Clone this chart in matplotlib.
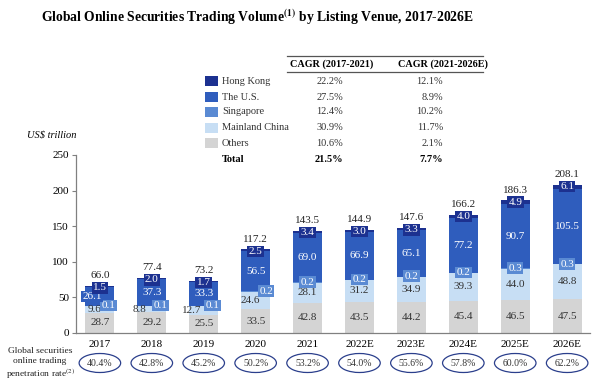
import matplotlib
matplotlib.use("Agg")
import matplotlib.pyplot as plt
from matplotlib.patches import Rectangle, Ellipse
from matplotlib.transforms import blended_transform_factory
import numpy as np

plt.rcParams['font.family'] = ['Liberation Serif', 'DejaVu Serif']
plt.rcParams['mathtext.fontset'] = 'stix'

years = ['2017', '2018', '2019', '2020', '2021', '2022E', '2023E', '2024E', '2025E', '2026E']
others = [28.7, 29.2, 25.5, 33.5, 42.8, 43.5, 44.2, 45.4, 46.5, 47.5]
mainland = [9.6, 8.8, 12.7, 24.6, 28.1, 31.2, 34.9, 39.3, 44.0, 48.8]
singapore = [0.1, 0.1, 0.1, 0.2, 0.2, 0.2, 0.2, 0.2, 0.3, 0.3]
us = [26.1, 37.3, 33.3, 56.5, 69.0, 66.9, 65.1, 77.2, 90.7, 105.5]
hk = [1.5, 2.0, 1.7, 2.5, 3.4, 3.0, 3.3, 4.0, 4.9, 6.1]
totals = [66.0, 77.4, 73.2, 117.2, 143.5, 144.9, 147.6, 166.2, 186.3, 208.1]
penetration = ['40.4%', '42.8%', '45.2%', '50.2%', '53.2%', '54.0%', '55.6%', '57.8%', '60.0%', '62.2%']

venues = ['Hong Kong', 'The U.S.', 'Singapore', 'Mainland China', 'Others']
cagr_1721 = ['22.2%', '27.5%', '12.4%', '30.9%', '10.6%']
cagr_2126 = ['12.1%', '8.9%', '10.2%', '11.7%', '2.1%']
total_cagr = ['21.5%', '7.7%']

c_hk = '#1c3190'
c_us = '#2f5dbd'
c_sg = '#5a8ad3'
c_cn = '#c7def4'
c_ot = '#d4d4d4'
colors = [c_hk, c_us, c_sg, c_cn, c_ot]

W, H = 614, 387
fig = plt.figure(figsize=(W / 100, H / 100), dpi=100)
ax = fig.add_axes([76 / W, 1 - 333 / H, (590 - 76) / W, (333 - 155) / H])


def fx(px):
    return px / W


def fy(py):
    return 1 - py / H


x = np.arange(len(years))
bw = 0.56
others = np.array(others)
mainland = np.array(mainland)
singapore = np.array(singapore)
us = np.array(us)
hk = np.array(hk)

b1 = others
b2 = b1 + mainland
b3 = b2 + singapore
b4 = b3 + us
ax.bar(x, others, bw, color=c_ot)
ax.bar(x, mainland, bw, bottom=b1, color=c_cn)
ax.bar(x, singapore, bw, bottom=b2, color=c_sg)
ax.bar(x, us, bw, bottom=b3, color=c_us)
ax.bar(x, hk, bw, bottom=b4, color=c_hk)

fs = 8
cn_off = [-0.1, -0.23, -0.24, -0.1, 0, 0, 0, 0, 0, 0]
sg_off = [0.17, 0.17, 0.17, 0.2, 0, 0, 0, 0, 0, 0]
us_off = [-0.15, 0, 0, 0, 0, 0, 0, 0, 0, 0]
for i in range(len(years)):
    ax.text(x[i], others[i] / 2, f'{others[i]:.1f}', ha='center', va='center',
            fontsize=fs, color='#333333')
    ax.text(x[i] + cn_off[i], b1[i] + mainland[i] / 2, f'{mainland[i]:.1f}',
            ha='center', va='center', fontsize=fs, color='#333333')
    ax.text(x[i] + sg_off[i], b2[i] + 0.5, f'{singapore[i]:.1f}', ha='center',
            va='center', fontsize=fs, color='white',
            bbox=dict(boxstyle='square,pad=0.12', fc=c_sg, ec='none'))
    ax.text(x[i] + us_off[i], b3[i] + us[i] / 2, f'{us[i]:.1f}', ha='center',
            va='center', fontsize=fs, color='white',
            bbox=dict(boxstyle='square,pad=0.12', fc=c_us, ec='none'))
    ax.text(x[i], totals[i] - 2.5, f'{hk[i]:.1f}', ha='center', va='center',
            fontsize=fs, color='white',
            bbox=dict(boxstyle='square,pad=0.12', fc=c_hk, ec='none'))
    ax.annotate(f'{totals[i]:.1f}', (x[i], totals[i]), xytext=(0, 4),
                textcoords='offset points', ha='center', va='bottom',
                fontsize=fs, color='#222222')

ax.set_xlim(-0.46, 9.44)
ax.set_ylim(0, 250)
ax.set_yticks([0, 50, 100, 150, 200, 250])
ax.set_xticks(x)
ax.set_xticklabels(years)
ax.tick_params(axis='y', length=3, width=0.8, color='#808080', labelsize=8, pad=2)
ax.tick_params(axis='x', length=0, labelsize=8, pad=5)
for s in ['top', 'right']:
    ax.spines[s].set_visible(False)
for s in ['left', 'bottom']:
    ax.spines[s].set_color('#808080')
    ax.spines[s].set_linewidth(0.9)

fig.text(fx(52), fy(136), 'US$ trillion', style='italic', fontsize=7.5,
         ha='center', va='center')

# title
fig.text(fx(257), fy(17), r'Global Online Securities Trading Volume$^{\mathbf{(1)}}$ by Listing Venue, 2017-2026E',
         ha='center', va='center', fontsize=9.8, fontweight='bold')

# CAGR table with legend
fig.add_artist(plt.Line2D([fx(287), fx(483)], [fy(56), fy(56)], color='#555555', lw=0.9))
fig.add_artist(plt.Line2D([fx(287), fx(483)], [fy(72), fy(72)], color='#555555', lw=0.9))
fig.text(fx(332), fy(64.5), 'CAGR (2017-2021)', ha='center', va='center',
         fontsize=7.3, fontweight='bold')
fig.text(fx(443), fy(64.5), 'CAGR (2021-2026E)', ha='center', va='center',
         fontsize=7.3, fontweight='bold')
row_y = [81, 97, 112, 128, 143]
for j, name in enumerate(venues):
    fig.add_artist(Rectangle((fx(205), fy(row_y[j] + 5)), 13 / W, 10 / H,
                             transform=fig.transFigure, fc=colors[j], ec='none'))
    fig.text(fx(222), fy(row_y[j]), name, ha='left', va='center', fontsize=7.5,
             color='#333333')
    fig.text(fx(343), fy(row_y[j]), cagr_1721[j], ha='right', va='center',
             fontsize=7.5, color='#333333')
    fig.text(fx(443), fy(row_y[j]), cagr_2126[j], ha='right', va='center',
             fontsize=7.5, color='#333333')
fig.text(fx(222), fy(159), 'Total', ha='left', va='center', fontsize=7.5,
         fontweight='bold')
fig.text(fx(343), fy(159), total_cagr[0], ha='right', va='center', fontsize=7.5,
         fontweight='bold')
fig.text(fx(443), fy(159), total_cagr[1], ha='right', va='center', fontsize=7.5,
         fontweight='bold')

# penetration rate row
trans = blended_transform_factory(ax.transData, fig.transFigure)
for i in range(len(years)):
    ax.add_patch(Ellipse((x[i], fy(363)), 0.8, 19 / H, transform=trans,
                         fc='none', ec='#2b3f8c', lw=0.9, clip_on=False))
    ax.text(x[i], fy(363), penetration[i], transform=trans, ha='center',
            va='center', fontsize=7, color='#333333')

fig.text(fx(40), fy(364), 'Global securities\nonline trading\npenetration rate$^{(2)}$',
         ha='center', va='center', fontsize=6.8, linespacing=1.25, color='#222222')

fig.savefig('out.png', dpi=100)
